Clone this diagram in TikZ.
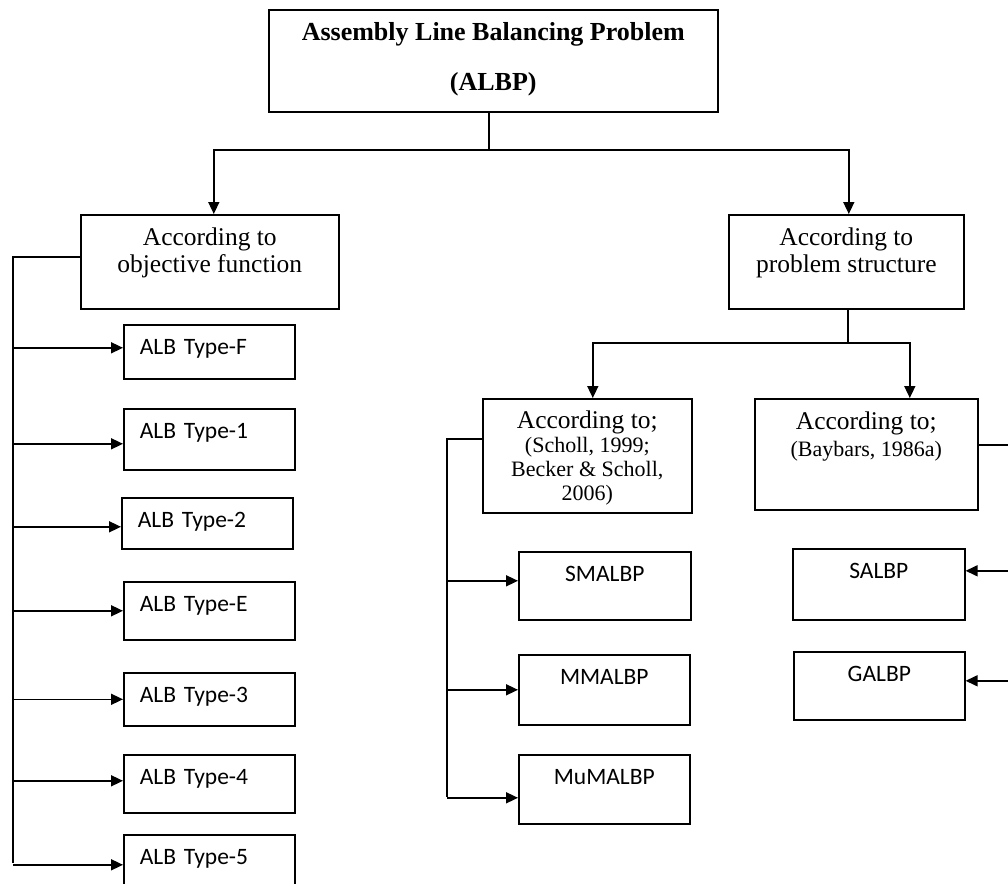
\documentclass[tikz,border=0pt]{standalone}
\usepackage{fontspec}
\setmainfont{Liberation Serif}
\newfontfamily\calibri{Carlito}
\usetikzlibrary{arrows.meta}
\newcommand\reffont{\fontsize{22}{24}\selectfont}

\begin{document}
\begin{tikzpicture}[x=1pt,y=-1pt,line width=1.6pt,
  arr/.style={-{Triangle[length=12pt,width=11pt]}},
  box/.style={draw,anchor=north west,inner ysep=6pt},
  serifbox/.style={box,align=center,text height=52pt,font=\fontsize{25.5}{27}\selectfont},
  sansbox/.style={box,align=center,text height=24pt,font=\calibri\fontsize{23.5}{28}\selectfont},
  typebox/.style={box,inner xsep=16pt,text width=139pt,align=left,text height=24pt,font=\calibri\fontsize{23.5}{28}\selectfont}]
\useasboundingbox (0,0) rectangle (1008,883);

\node[serifbox,font=\bfseries\fontsize{26}{50}\selectfont,minimum width=449pt,text height=75pt,text depth=15pt] (albp) at (268,9) {Assembly Line Balancing Problem\\(ALBP)};
\node[serifbox,minimum width=258pt,text depth=30pt] (obj) at (80,214) {According to\\objective function};
\node[serifbox,minimum width=235pt,text depth=30pt] (str) at (728,214) {According to\\problem structure};
\node[serifbox,font=\fontsize{25.5}{24}\selectfont,minimum width=209pt,text height=96pt,text depth=6pt] (scholl) at (482,398) {According to;\\\reffont(Scholl, 1999;\\\reffont Becker \& Scholl,\\\reffont 2006)};
\node[serifbox,minimum width=223pt,text depth=47pt] (bay) at (754,398) {According to;\\\reffont(Baybars, 1986a)};

\node[typebox,text depth=18pt] (tf) at (123,324) {ALB Type-F};
\node[typebox,text depth=25pt] (t1) at (123,408) {ALB Type-1};
\node[typebox,text depth=15pt] (t2) at (121,497) {ALB Type-2};
\node[typebox,text depth=22pt] (te) at (123,581) {ALB Type-E};
\node[typebox,text depth=17pt] (t3) at (123,672) {ALB Type-3};
\node[typebox,text depth=22pt] (t4) at (123,754) {ALB Type-4};
\node[typebox,text depth=24pt] (t5) at (123,834) {ALB Type-5};

\node[sansbox,minimum width=172pt,text depth=32pt] (sm) at (518,551) {SMALBP};
\node[sansbox,minimum width=171pt,text depth=34pt] (mm) at (518,654) {MMALBP};
\node[sansbox,minimum width=171pt,text depth=33pt] (mu) at (518,754) {MuMALBP};
\node[sansbox,minimum width=172pt,text depth=35pt] (sal) at (792,548) {SALBP};
\node[sansbox,minimum width=171pt,text depth=32pt] (gal) at (793,651) {GALBP};

\coordinate (j1) at (489,150);
\coordinate (j2) at (848,343);
\coordinate (lt) at (13,863);
\coordinate (mt) at (447,797);
\coordinate (rt) at (1010,680);

\draw (albp.south -| j1) -- (j1);
\draw[arr] (j1) -| ([xshift=4pt]obj.north);
\draw[arr] (j1) -| ([xshift=2.5pt]str.north);
\draw (str.south -| j2) -- (j2);
\draw[arr] (j2) -| ([xshift=5.5pt]scholl.north);
\draw[arr] (j2) -| ([xshift=43.5pt]bay.north);

\draw ([yshift=5pt]obj.west) -| (lt);
\draw[arr] ([yshift=4pt]tf.west -| lt) -- ([yshift=4pt]tf.west);
\draw[arr] ([yshift=-4.5pt]t1.west -| lt) -- ([yshift=-4.5pt]t1.west);
\draw[arr] ([yshift=-3.5pt]t2.west -| lt) -- ([yshift=-3.5pt]t2.west);
\draw[arr] (te.west -| lt) -- (te.west);
\draw[arr] (t3.west -| lt) -- (t3.west);
\draw[arr] ([yshift=3pt]t4.west -| lt) -- ([yshift=3pt]t4.west);
\draw[arr] (t5.west -| lt) -- (t5.west);

\draw ([yshift=17pt]scholl.west) -| (mt);
\draw[arr] ([yshift=5pt]sm.west -| mt) -- ([yshift=5pt]sm.west);
\draw[arr] (mm.west -| mt) -- (mm.west);
\draw[arr] ([yshift=-8.5pt]mu.west -| mt) -- ([yshift=-8.5pt]mu.west);

\draw ([yshift=9.5pt]bay.east) -| (rt);
\draw[arr] ([yshift=13.5pt]sal.east -| rt) -- ([yshift=13.5pt]sal.east);
\draw[arr] ([yshift=5pt]gal.east -| rt) -- ([yshift=5pt]gal.east);
\end{tikzpicture}
\end{document}
